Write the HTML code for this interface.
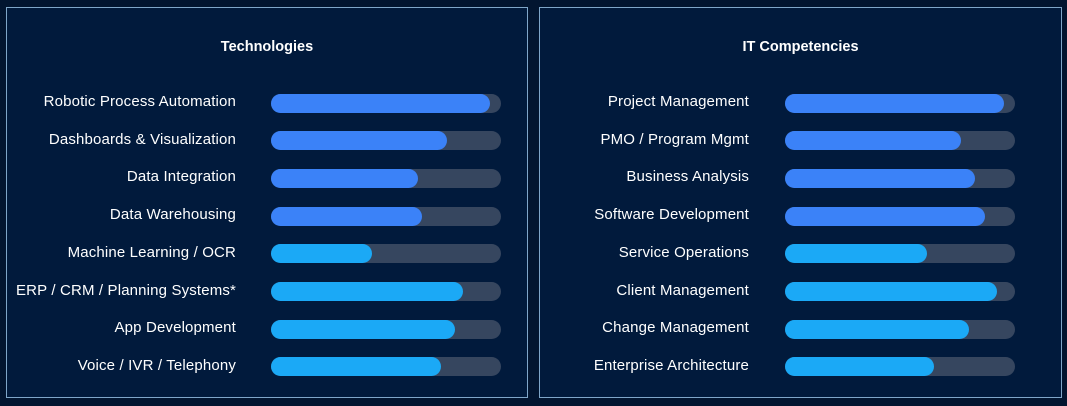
<!DOCTYPE html>
<html><head><meta charset="utf-8"><style>
html,body{margin:0;padding:0;background:#021530;width:1067px;height:406px;overflow:hidden;font-family:"Liberation Sans",sans-serif}
.panel{position:absolute;top:7px;height:391px;border:1.5px solid #7fa6c9;background:#011a3c;box-sizing:border-box}
.title{position:absolute;top:31px;width:100%;text-align:center;color:#fff;font-weight:bold;font-size:14.5px}
.lbl{position:absolute;color:#fff;font-size:15px;letter-spacing:0.15px;text-align:right;width:260px;white-space:nowrap}
.track{position:absolute;height:19px;border-radius:10px;background:#36465f}
.fill{position:absolute;left:0;top:0;height:19px;border-radius:10px}
</style></head><body>
<div class="panel" style="left:6px;width:522px"><div class="title">Technologies</div></div>
<div class="panel" style="left:539px;width:523px"><div class="title">IT Competencies</div></div>
<div id="c"></div>
<script>
const techCategories=["Robotic Process Automation","Dashboards & Visualization","Data Integration","Data Warehousing","Machine Learning / OCR","ERP / CRM / Planning Systems*","App Development","Voice / IVR / Telephony"];
const techValues=[0.95,0.765,0.64,0.657,0.44,0.835,0.80,0.74];
const itCategories=["Project Management","PMO / Program Mgmt","Business Analysis","Software Development","Service Operations","Client Management","Change Management","Enterprise Architecture"];
const itValues=[0.95,0.765,0.826,0.87,0.617,0.92,0.80,0.648];
const c=document.getElementById('c');
function draw(cats,vals,labelRight,trackX,prefix){
 cats.forEach((cat,i)=>{
  const y=103+i*37.7;
  const l=document.createElement('div');l.className='lbl';
  
  
  l.style.left=(labelRight-260)+'px';l.style.top=(y-10)+'px';l.textContent=cat;c.appendChild(l);
  const t=document.createElement('div');t.className='track';
  
  
  t.style.left=trackX+'px';t.style.top=(y-9.5)+'px';t.style.width='230px';
  const f=document.createElement('div');f.className='fill';
  
  
  f.style.width=(vals[i]*230)+'px';f.style.background=i<4?'#3b82f8':'#1ba9f6';
  t.appendChild(f);c.appendChild(t);
 });
}
draw(techCategories,techValues,236,271,'technologies');
draw(itCategories,itValues,749,785,'it-competencies');
</script>
</body></html>
